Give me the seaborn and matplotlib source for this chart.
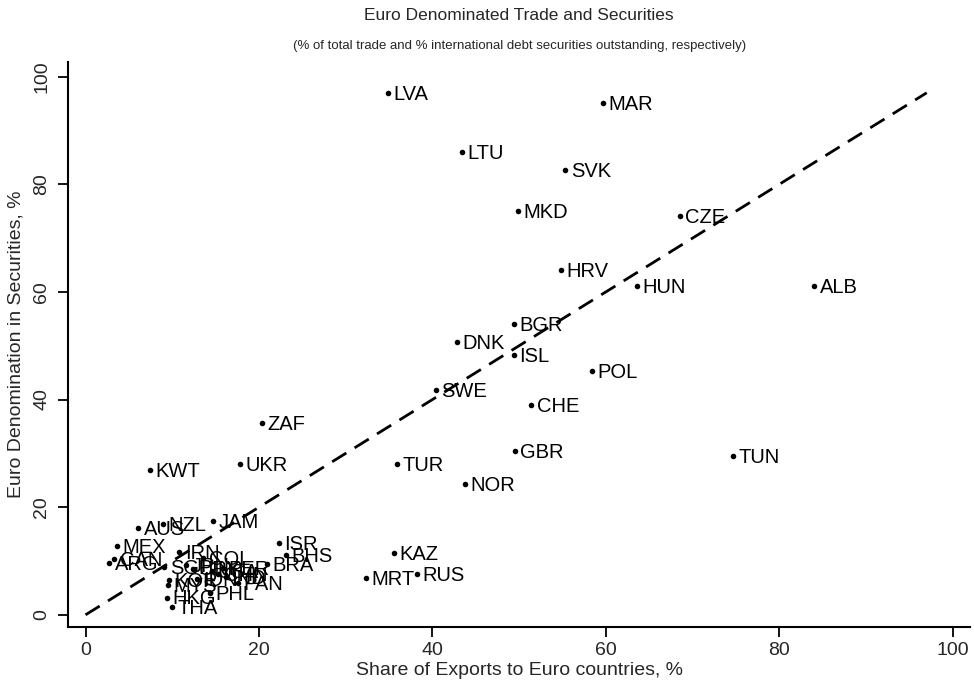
import pandas as pd
import seaborn as sns
import matplotlib.pyplot as plt

# country codes and their values
codes = [
    "LVA", "MAR", "LTU", "SVK", "MKD", "CZE", "HRV", "HUN", "ALB", "BGR",
    "DNK", "ISL", "POL", "SWE", "CHE", "ZAF", "GBR", "TUN", "KWT", "UKR",
    "TUR", "NOR", "JAM", "NZL", "AUS", "ISR", "BHS", "BRA", "KAZ", "MRT",
    "RUS", "MEX", "ARG", "CAN", "SGP", "IRN", "COL", "URY", "JPN", "USA",
    "CHN", "IND", "IDN", "KOR", "MYS", "PAN", "PHL", "HKG", "THA", "PER",
]
export_share = [
    34.9, 59.7, 43.4, 55.3, 49.9, 68.5, 54.8, 63.6, 84.0, 49.4,
    42.8, 49.4, 58.4, 40.4, 51.4, 20.3, 49.5, 74.7, 7.4, 17.8,
    35.9, 43.7, 14.7, 8.9, 6.1, 22.3, 23.1, 20.9, 35.6, 32.3,
    38.2, 3.6, 2.7, 3.3, 9.1, 10.8, 13.6, 12.4, 11.6, 14.6,
    15.3, 16.2, 12.9, 9.6, 9.5, 17.6, 14.3, 9.4, 10.0, 15.8,
]
euro_sec = [
    96.9, 95.1, 86.0, 82.6, 75.0, 74.1, 64.0, 61.1, 61.1, 54.0,
    50.7, 48.3, 45.3, 41.7, 38.9, 35.6, 30.4, 29.5, 26.9, 28.0,
    28.0, 24.3, 17.4, 16.8, 16.1, 13.3, 11.1, 9.5, 11.5, 6.8,
    7.5, 12.8, 9.6, 10.3, 8.9, 11.7, 10.6, 8.6, 9.2, 8.1,
    7.6, 7.0, 6.6, 6.4, 5.5, 5.9, 4.1, 3.2, 1.4, 8.7,
]
line_x = [0, 97]
line_y = [0, 97]

df = pd.DataFrame({"code": codes, "exports": export_share, "securities": euro_sec})

sns.set_style("ticks")
plt.rcParams["font.family"] = ["Liberation Sans", "DejaVu Sans"]

fig = plt.figure(figsize=(9.74, 6.9), dpi=100)
ax = fig.add_axes([0.07, 0.091, 0.926, 0.819])

sns.scatterplot(data=df, x="exports", y="securities", color="black",
                s=16, edgecolor="black", linewidth=0, ax=ax, zorder=3)
sns.lineplot(x=line_x, y=line_y, color="black", linestyle=(0, (6, 3.5)),
             linewidth=2, ax=ax)

for _, r in df.iterrows():
    ax.annotate(r["code"], (r["exports"], r["securities"]),
                xytext=(4, -1), textcoords="offset points",
                ha="left", va="center", fontsize=14.5, color="black")

ax.set_xlim(-2.0, 102)
ax.set_ylim(-2.3, 102.7)
ax.set_xticks([0, 20, 40, 60, 80, 100])
ax.set_yticks([0, 20, 40, 60, 80, 100])
ax.tick_params(axis="both", labelsize=14, length=7, width=1.3, color="black")
ax.tick_params(axis="y", pad=6)
plt.setp(ax.get_yticklabels(), rotation=90, va="center")
ax.set_xlabel("Share of Exports to Euro countries, %", fontsize=14, labelpad=2)
ax.set_ylabel("Euro Denomination in Securities, %", fontsize=14, labelpad=6)
sns.despine(ax=ax)
for sp in ["left", "bottom"]:
    ax.spines[sp].set_linewidth(1.5)
    ax.spines[sp].set_color("black")

fig.text(0.533, 0.978, "Euro Denominated Trade and Securities",
         ha="center", va="center", fontsize=12.5)
fig.text(0.533, 0.934,
         "(% of total trade and % international debt securities outstanding, respectively)",
         ha="center", va="center", fontsize=9.5)

fig.savefig("out.png", dpi=100)
